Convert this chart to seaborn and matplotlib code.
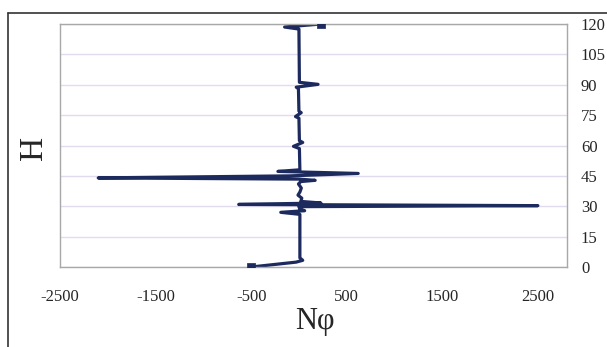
import matplotlib
matplotlib.use("Agg")
import matplotlib.pyplot as plt
from matplotlib.lines import Line2D
import pandas as pd
import seaborn as sns

# H (height) and N-phi values, in drawing order
h_values = [0, 2.4, 3.3, 4.5, 26.0, 27.0, 27.8, 28.6, 29.8, 30.3, 30.9, 31.6, 32.4,
            34.0, 35.5, 37.0, 39.0, 41.0, 42.2, 42.8, 43.4, 44.0, 45.0, 46.2, 47.2,
            48.0, 58.5, 59.6, 61.5, 62.4, 73.5, 74.3, 76.2, 77.0, 88.0, 88.8, 90.2,
            91.2, 117.5, 118.5, 120.0]
n_values = [-500, -30, 40, 10, 10, -190, 60, 10, 0, 2500, -630, 230, 20,
            30, -10, 10, 25, -5, 20, 170, 0, -2100, -100, 620, -220,
            10, 5, -57, 40, 5, 0, -36, 24, 0, -5, -28, 200,
            5, 0, -150, 233]

x_ticks = [-2500, -1500, -500, 500, 1500, 2500]
y_ticks = [0, 15, 30, 45, 60, 75, 90, 105, 120]

line_color = "#1d2a5e"

df = pd.DataFrame({"N": n_values, "H": h_values})
ends = df.iloc[[0, -1]]

sns.set_theme(style="white")
plt.rcParams["font.family"] = ["Liberation Serif", "DejaVu Serif"]

fig = plt.figure(figsize=(6.07, 3.47), dpi=100)
ax = fig.add_axes([60 / 607, 1 - 267 / 347, 507 / 607, 243 / 347])

for y in y_ticks:
    ax.axhline(y, color="#e2dbee", lw=1.0, zorder=0)

sns.lineplot(data=df, x="N", y="H", sort=False, estimator=None,
             color=line_color, lw=2.3, ax=ax)
sns.scatterplot(data=ends, x="N", y="H", marker="s", s=40,
                color=line_color, edgecolor=line_color, ax=ax, zorder=5)

ax.set_xlim(-2500, 2805)
ax.set_ylim(0, 120)
ax.set_xticks(x_ticks)
ax.set_yticks(y_ticks)
ax.set_xticklabels([str(t) for t in x_ticks])
ax.yaxis.tick_right()
ax.tick_params(axis="x", direction="out", length=3, width=0.8, color="#999999",
               pad=13, labelsize=12)
ax.tick_params(axis="y", length=0, pad=10, labelsize=12)

for spine in ax.spines.values():
    spine.set_color("#a8a8a8")
    spine.set_linewidth(1.0)

ax.set_xlabel("Nφ", fontsize=22)
ax.xaxis.set_label_coords(0.503, -0.165)
ax.set_ylabel("H", fontsize=24)
ax.yaxis.set_label_position("left")
ax.yaxis.set_label_coords(-0.022, 0.49)

# outer chart frame (left and top edges visible in the scan)
fig.add_artist(Line2D([8 / 607, 8 / 607], [0, 1 - 13 / 347],
                      transform=fig.transFigure, color="#333333", lw=1.2))
fig.add_artist(Line2D([8 / 607, 1], [1 - 13 / 347, 1 - 13 / 347],
                      transform=fig.transFigure, color="#333333", lw=1.2))

fig.savefig("out.png", dpi=100)
